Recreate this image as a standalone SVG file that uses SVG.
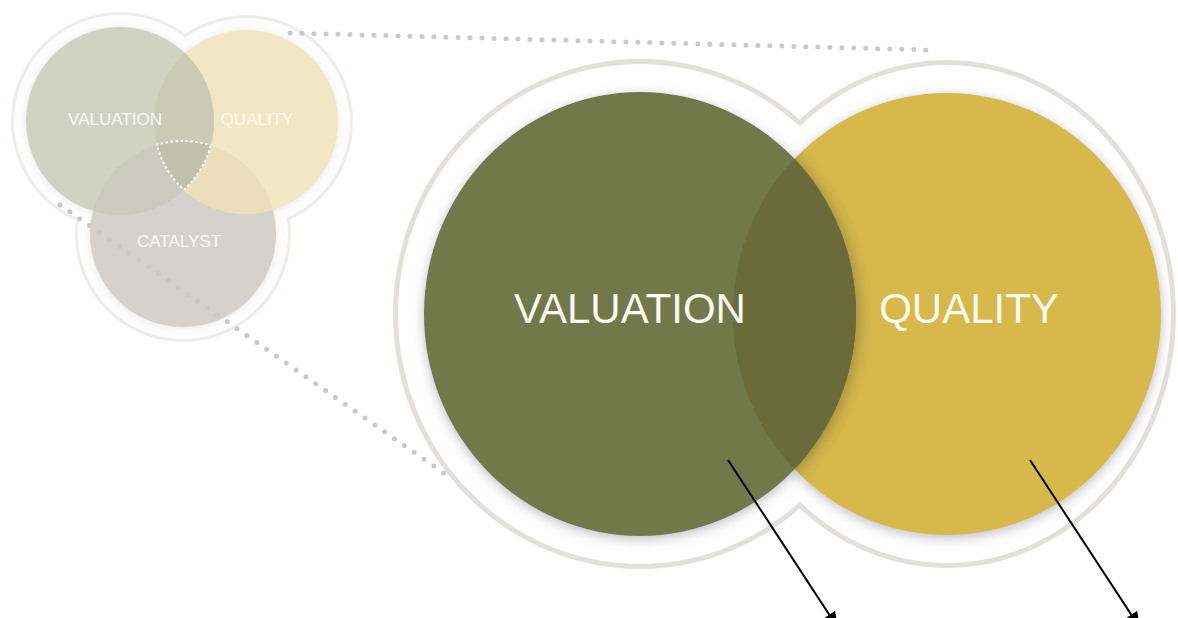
<svg xmlns="http://www.w3.org/2000/svg" width="1178" height="618" viewBox="0 0 1178 618">
<style>
.ring{fill:none;stroke:#e3dfda;stroke-width:10}
.ringfill{fill:#fff;stroke:none}
.halo{fill:none;stroke:#efedea;stroke-width:6}
.halofill{fill:#fdfdfd;stroke:none}
.big{font-family:"Liberation Sans","DejaVu Sans",sans-serif;font-size:42px;fill:#fcfaf0;text-anchor:middle}
.small{font-family:"Liberation Sans","DejaVu Sans",sans-serif;font-size:17px;fill:#fbf9f2;text-anchor:middle}
.dots{fill:none;stroke:#c9c9cb;stroke-width:5;stroke-linecap:round;stroke-dasharray:0 12}
.arrow{stroke:#000;stroke-width:2;fill:none;marker-end:url(#ah)}
.tri{fill:none;stroke:#fff;stroke-width:2;stroke-dasharray:2.5 2.5}
</style>
<defs>
<marker id="ah" markerUnits="userSpaceOnUse" markerWidth="18" markerHeight="14" refX="16" refY="7" orient="auto">
<path d="M0,0 L16,7 L0,14 Z" fill="#000"/>
</marker>
<filter id="sh" x="-10%" y="-10%" width="120%" height="120%">
<feDropShadow dx="0" dy="3" stdDeviation="6" flood-color="#7c7c8e" flood-opacity="0.5"/>
</filter>
<filter id="sh2" x="-10%" y="-10%" width="120%" height="120%">
<feDropShadow dx="0" dy="1" stdDeviation="3" flood-color="#9a9aa4" flood-opacity="0.2"/>
</filter>
<filter id="blur" x="-10%" y="-10%" width="120%" height="120%">
<feGaussianBlur stdDeviation="7"/>
</filter>
<clipPath id="cG"><ellipse cx="640" cy="314" rx="216" ry="222"/></clipPath>
<clipPath id="cY"><ellipse cx="947" cy="314" rx="214" ry="221"/></clipPath>
<clipPath id="cV"><circle cx="120" cy="121" r="94"/></clipPath>
<clipPath id="cQ"><circle cx="246" cy="122" r="92"/></clipPath>
<clipPath id="cC"><circle cx="183" cy="234" r="93"/></clipPath>
</defs>
<rect width="1178" height="618" fill="#fff"/>

<g id="small-venn">
<circle class="halo" cx="120" cy="121" r="106"/>
<circle class="halo" cx="246" cy="122" r="104"/>
<circle class="halo" cx="183" cy="234" r="105"/>
<circle class="halofill" cx="120" cy="121" r="106"/>
<circle class="halofill" cx="246" cy="122" r="104"/>
<circle class="halofill" cx="183" cy="234" r="105"/>
<g filter="url(#sh2)">
<circle id="small-catalyst" cx="183" cy="234" r="93" fill="#d5d1cc"/>
<circle id="small-quality" cx="246" cy="122" r="92" fill="#f2e7c5"/>
<circle id="small-valuation" cx="120" cy="121" r="94" fill="#d0d3c2"/>
</g>
<circle clip-path="url(#cC)" cx="246" cy="122" r="92" fill="#ebdfbb"/>
<circle clip-path="url(#cQ)" cx="120" cy="121" r="94" fill="#cacbb4"/>
<circle clip-path="url(#cC)" cx="120" cy="121" r="94" fill="#cacbbc"/>
<g clip-path="url(#cQ)"><circle clip-path="url(#cC)" cx="120" cy="121" r="94" fill="#bfc1ae"/></g>
<g clip-path="url(#cV)"><circle class="tri" clip-path="url(#cQ)" cx="183" cy="234" r="93"/></g>
<g clip-path="url(#cQ)"><circle class="tri" clip-path="url(#cC)" cx="120" cy="121" r="94"/></g>
<g clip-path="url(#cV)"><circle class="tri" clip-path="url(#cC)" cx="246" cy="122" r="92"/></g>
<text class="small" x="115" y="125">VALUATION</text>
<text class="small" x="257" y="125">QUALITY</text>
<text class="small" x="179" y="247">CATALYST</text>
</g>

<g id="big-venn">
<ellipse class="ring" cx="640" cy="314" rx="242" ry="250"/>
<ellipse class="ring" cx="947" cy="314" rx="224" ry="249"/>
<ellipse class="ringfill" cx="640" cy="314" rx="242" ry="250"/>
<ellipse class="ringfill" cx="947" cy="314" rx="224" ry="249"/>
<g filter="url(#sh)">
<g id="quality"><ellipse cx="947" cy="314" rx="214" ry="221" fill="#d6b84b"/></g>
<g id="valuation"><ellipse cx="640" cy="314" rx="216" ry="222" fill="#717849"/></g>
</g>
<g clip-path="url(#cY)">
<ellipse cx="643" cy="316" rx="216" ry="222" fill="#5a5a30" opacity="0.45" filter="url(#blur)"/>
</g>
<ellipse cx="640" cy="314" rx="216" ry="222" fill="#717849" clip-path="url(#cY)"/>
<g clip-path="url(#cG)">
<ellipse cx="947" cy="314" rx="214" ry="221" fill="#6b6a3b"/>
</g>
<text class="big" x="630" y="323">VALUATION</text>
<text class="big" x="969" y="323">QUALITY</text>
</g>

<g id="connectors">
<line class="dots" x1="290" y1="33" x2="928" y2="50"/>
<line class="dots" x1="60" y1="205" x2="448" y2="476"/>
<line class="arrow" x1="728" y1="460" x2="838" y2="628"/>
<line class="arrow" x1="1030" y1="460" x2="1140" y2="628"/>
</g>
</svg>
